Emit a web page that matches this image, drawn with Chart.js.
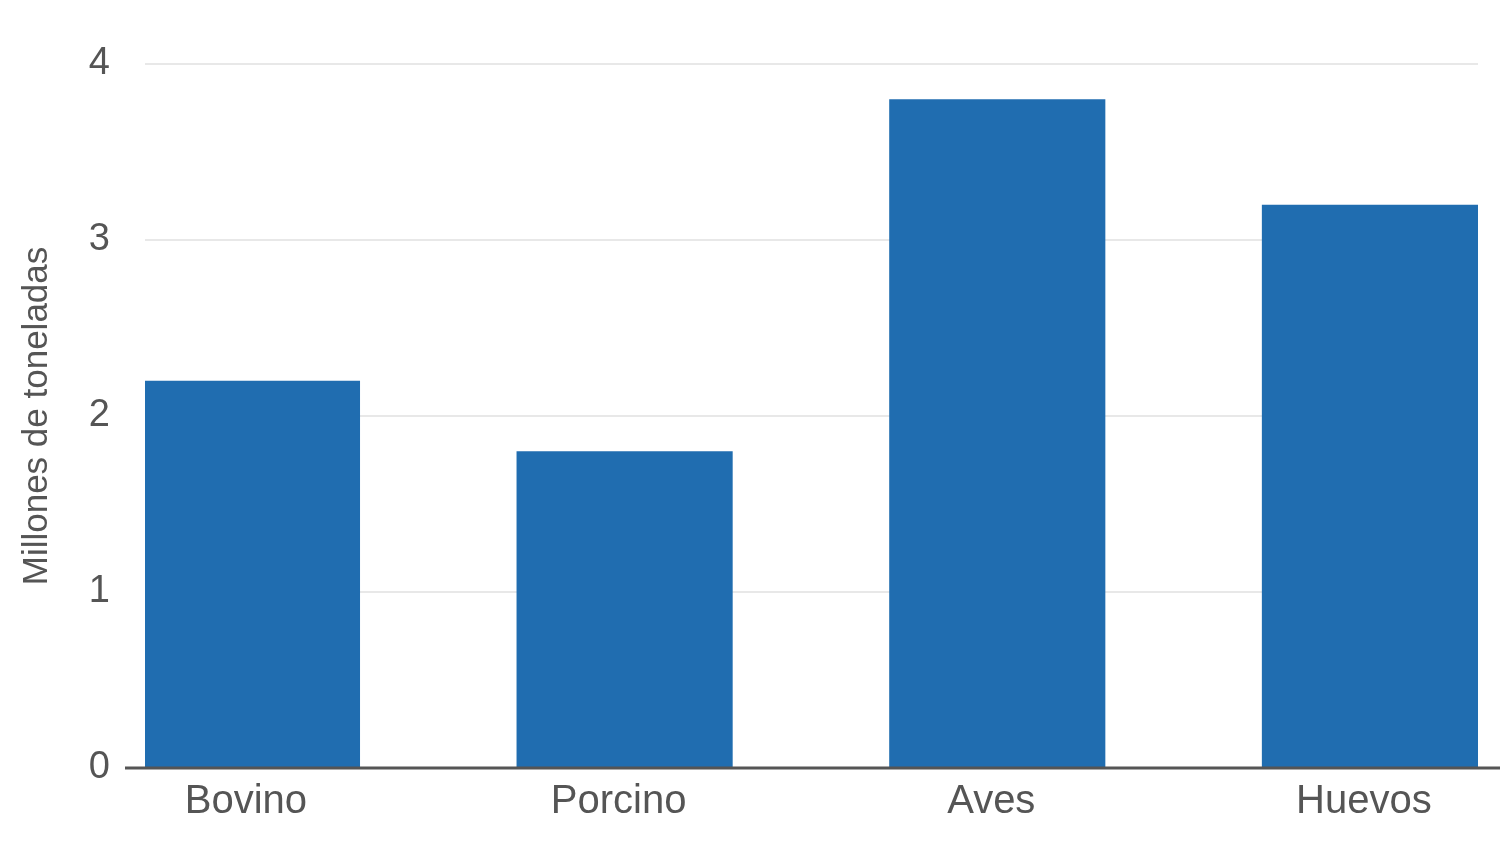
<!DOCTYPE html>
<html>
<head>
<meta charset="utf-8">
<script src="https://cdn.jsdelivr.net/npm/chart.js@4"></script>
<style>
  html, body { margin: 0; padding: 0; background: #fff; }
  #wrap { width: 1506px; height: 860px; }
</style>
</head>
<body>
<div id="wrap"><canvas id="grafica"></canvas></div>
<script>
// Datos
const categorias = ['Bovino', 'Porcino', 'Aves', 'Huevos'];
const valores = [2.2, 1.8, 3.8, 3.2];
const ticksY = [0, 1, 2, 3, 4];

// Línea del eje X, un poco más larga que el área del gráfico y encima de las barras
const ejeX = {
    id: 'ejeX',
    afterDatasetsDraw(chart) {
        const { ctx, chartArea, scales } = chart;
        const y = scales.y.getPixelForValue(0);
        ctx.save();
        ctx.strokeStyle = '#555555';
        ctx.lineWidth = 3;
        ctx.beginPath();
        ctx.moveTo(chartArea.left - 20, y);
        ctx.lineTo(chartArea.right + 22, y);
        ctx.stroke();
        ctx.restore();
    }
};

new Chart(document.getElementById('grafica'), {
    type: 'bar',
    data: {
        datasets: [{
            data: valores.map((v, i) => ({ x: i, y: v })),
            backgroundColor: '#206db0',
            borderWidth: 0,
            categoryPercentage: 1,
            barPercentage: 0.58
        }]
    },
    options: {
        responsive: true,
        maintainAspectRatio: false,
        animation: false,
        layout: { padding: { top: 64, right: 28, bottom: 24, left: 0 } },
        plugins: {
            legend: { display: false },
            tooltip: { enabled: false }
        },
        scales: {
            x: {
                type: 'linear',
                bounds: 'data',
                offset: false,
                min: -0.287,
                max: 3.29,
                grid: { display: false, drawTicks: false, offset: false },
                border: { display: false },
                afterBuildTicks: s => { s.ticks = categorias.map((c, i) => ({ value: i })); },
                ticks: {
                    autoSkip: false,
                    maxRotation: 0,
                    padding: 10,
                    labelOffset: -6,
                    color: '#555555',
                    font: { family: '"Liberation Sans", Arial, sans-serif', size: 40 },
                    callback: v => categorias[v]
                }
            },
            y: {
                min: 0,
                max: 4,
                afterBuildTicks: s => { s.ticks = ticksY.map(v => ({ value: v })); },
                afterFit: s => { s.width = 145; },
                grid: { color: '#e8e8e8', lineWidth: 2, drawTicks: false },
                border: { display: false },
                ticks: {
                    padding: 35,
                    color: '#555555',
                    font: { family: '"Liberation Sans", Arial, sans-serif', size: 38 }
                },
                title: {
                    display: true,
                    text: 'Millones de toneladas',
                    color: '#555555',
                    padding: { top: 16, bottom: 0 },
                    font: { family: '"Liberation Sans", Arial, sans-serif', size: 35 }
                }
            }
        }
    },
    plugins: [ejeX]
});
</script>
</body>
</html>
